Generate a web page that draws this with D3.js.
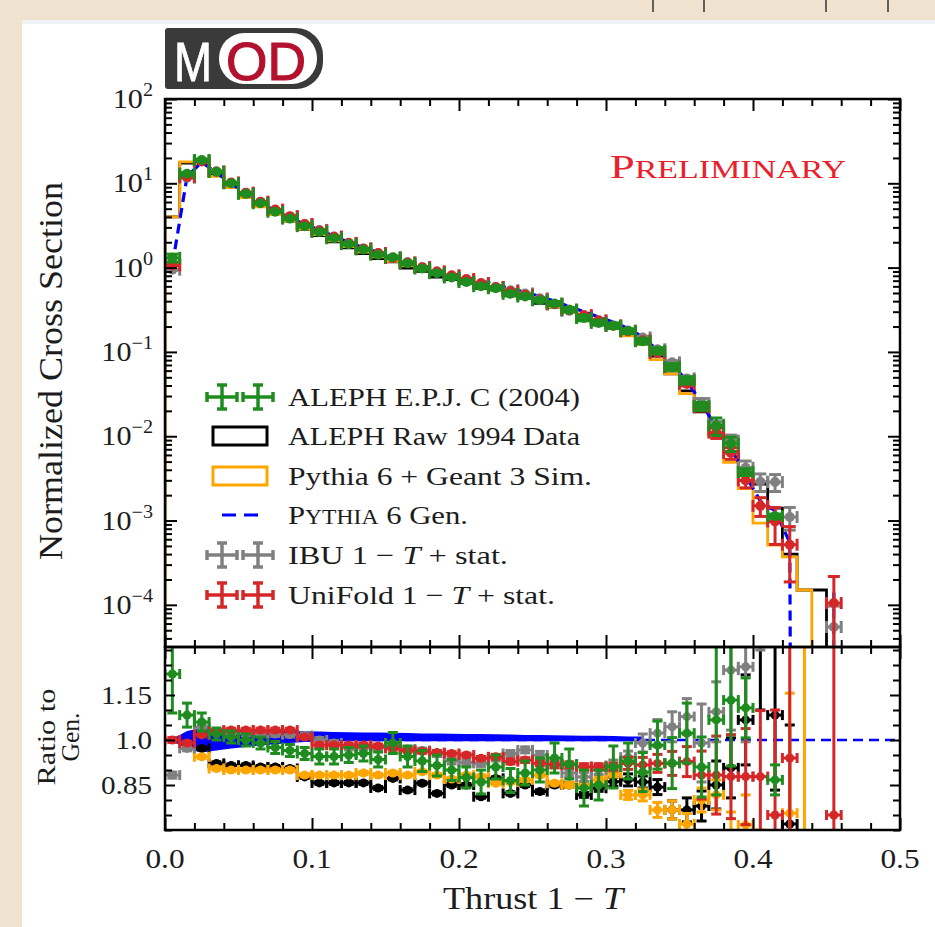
<!DOCTYPE html>
<html>
<head>
<meta charset="utf-8">
<script src="https://cdn.jsdelivr.net/npm/d3@7"></script>
<style>
body { margin: 0; background: #efe2cf; }
svg { display: block; font-family: "Liberation Serif", "DejaVu Serif", serif; }
</style>
</head>
<body>
<script>
// bin centres of the 1-T histogram (bin width 0.01)
const binCenters = [0.005, 0.015, 0.025, 0.035, 0.045, 0.055, 0.065, 0.075, 0.085, 0.095,
  0.105, 0.115, 0.125, 0.135, 0.145, 0.155, 0.165, 0.175, 0.185, 0.195,
  0.205, 0.215, 0.225, 0.235, 0.245, 0.255, 0.265, 0.275, 0.285, 0.295,
  0.305, 0.315, 0.325, 0.335, 0.345, 0.355, 0.365, 0.375, 0.385, 0.395,
  0.405, 0.415, 0.425, 0.435, 0.445, 0.455];
const binWidth = 0.01;

// Pythia 6 Gen. (upper panel, normalized cross section)
const gen = [1.07, 12.0, 17.8, 13.4, 9.9, 7.5, 5.86, 4.72, 3.95, 3.25,
  2.8, 2.36, 2.0, 1.72, 1.52, 1.34, 1.19, 1.05, 0.94, 0.85,
  0.77, 0.70, 0.625, 0.565, 0.51, 0.455, 0.40, 0.345, 0.30, 0.26,
  0.225, 0.19, 0.15, 0.105, 0.072, 0.045, 0.025, 0.0125, 0.0072, 0.0034,
  0.0017, 0.0013, 0.00055, 0, 0, 0.00014];

// ALEPH raw 1994 data and Pythia 6 + Geant 3 sim (upper panel step histograms)
const rawHist = [4.0, 17.4, 17.3, 12.4, 9.06, 6.86, 5.33, 4.30, 3.57, 2.85,
  2.40, 2.02, 1.71, 1.47, 1.28, 1.17, 0.99, 0.90, 0.77, 0.72,
  0.655, 0.568, 0.545, 0.464, 0.434, 0.377, 0.34, 0.293, 0.245, 0.218,
  0.194, 0.165, 0.129, 0.089, 0.055, 0.0345, 0.0195, 0.0106, 0.0065, 0.0036,
  0.0027, 0.0014, 0.0004, 0.00015, 0.00015, 0];
const simHist = [4.0, 18.0, 16.8, 12.1, 8.9, 6.75, 5.27, 4.25, 3.56, 2.87,
  2.47, 2.08, 1.77, 1.53, 1.34, 1.19, 1.05, 0.94, 0.83, 0.74,
  0.68, 0.615, 0.535, 0.486, 0.442, 0.402, 0.342, 0.293, 0.255, 0.225,
  0.2, 0.155, 0.123, 0.081, 0.055, 0.032, 0.02, 0.0102, 0.0049, 0.0024,
  0.00093, 0.00051, 0.00037, 0.00015, 0, 0];

// ratios to Gen. (lower panel) and their errors
const rAleph = [1.22, 1.083, 1.06, 1.02, 1.01, 1.0, 0.99, 0.975, 0.965, 0.955,
  0.945, 0.945, 0.95, 0.955, 0.935, 0.99, 0.945, 0.93, 0.915, 0.9,
  0.875, 0.86, 0.91, 0.865, 0.89, 0.9, 0.94, 0.92, 0.84, 0.85,
  0.91, 0.93, 0.893, 0.983, 0.923, 1.023, 0.91, 1.067, 1.133, 1.107,
  null, 0.867, null, null, null, null];
const eAleph = [0.13, 0.04, 0.03, 0.02, 0.02, 0.02, 0.02, 0.02, 0.02, 0.02,
  0.025, 0.025, 0.025, 0.025, 0.025, 0.035, 0.035, 0.035, 0.035, 0.035,
  0.035, 0.04, 0.04, 0.04, 0.04, 0.04, 0.05, 0.05, 0.06, 0.05,
  0.07, 0.06, 0.065, 0.08, 0.085, 0.1, 0.1, 0.25, 0.22, 0.1,
  null, 0.05, null, null, null, null];

const rIbu = [0.883, 0.972, 1.043, 1.028, 1.022, 1.022, 1.02, 1.02, 1.018, 1.015,
  1.0, 0.99, 0.975, 0.975, 0.975, 0.98, 0.97, 0.965, 0.955, 0.93,
  0.925, 0.922, 0.94, 0.955, 0.967, 0.95, 0.92, 0.89, 0.877, 0.9,
  0.915, 0.943, 0.99, 1.023, 1.044, 1.078, 0.99, 1.094, 1.233, 1.244,
  1.7, 2.2, 2.0, null, null, 0.39];
const eIbu = [0.01, 0.008, 0.008, 0.008, 0.008, 0.008, 0.008, 0.008, 0.008, 0.008,
  0.008, 0.008, 0.008, 0.008, 0.008, 0.008, 0.008, 0.008, 0.01, 0.01,
  0.01, 0.01, 0.01, 0.01, 0.01, 0.012, 0.012, 0.012, 0.015, 0.015,
  0.018, 0.02, 0.03, 0.045, 0.05, 0.06, 0.13, 0.1, 0.2, 0.25,
  0.4, 0.5, 0.6, null, null, 0.3];

const rUni = [1.0, 0.99, 1.017, 1.028, 1.033, 1.033, 1.033, 1.033, 1.033, 1.01,
  0.983, 0.983, 0.983, 0.983, 0.98, 0.972, 0.965, 0.962, 0.958, 0.955,
  0.95, 0.939, 0.944, 0.928, 0.933, 0.922, 0.917, 0.917, 0.911, 0.911,
  0.911, 0.922, 0.917, 0.922, 0.922, 0.928, 0.883, 0.883, 0.878, 0.878,
  0.878, 0.75, 0.94, null, null, 0.75];
const eUni = [0.008, 0.006, 0.006, 0.006, 0.006, 0.006, 0.006, 0.006, 0.006, 0.006,
  0.006, 0.006, 0.006, 0.006, 0.006, 0.006, 0.006, 0.006, 0.006, 0.006,
  0.006, 0.006, 0.008, 0.008, 0.008, 0.008, 0.01, 0.01, 0.01, 0.01,
  0.012, 0.02, 0.025, 0.03, 0.04, 0.05, 0.08, 0.13, 0.14, 0.16,
  0.22, 0.35, 0.6, null, null, 0.8];

const rRaw = [3.7, 1.45, 0.972, 0.922, 0.915, 0.915, 0.91, 0.91, 0.905, 0.877,
  0.857, 0.857, 0.857, 0.857, 0.84, 0.872, 0.833, 0.856, 0.822, 0.85,
  0.85, 0.811, 0.872, 0.822, 0.85, 0.828, 0.85, 0.85, 0.817, 0.839,
  0.861, 0.867, 0.86, 0.843, 0.767, 0.767, 0.78, 0.85, 0.907, 1.067,
  1.6, 1.083, 0.72, null, null, null];
const eRaw = [0.02, 0.006, 0.005, 0.005, 0.005, 0.005, 0.005, 0.005, 0.005, 0.005,
  0.005, 0.005, 0.005, 0.005, 0.005, 0.005, 0.005, 0.005, 0.005, 0.005,
  0.005, 0.005, 0.005, 0.005, 0.005, 0.006, 0.006, 0.008, 0.008, 0.01,
  0.015, 0.02, 0.02, 0.025, 0.03, 0.04, 0.05, 0.08, 0.1, 0.15,
  0.5, 0.25, 0.33, null, null, null];

const rSim = [3.7, 1.5, 0.944, 0.905, 0.9, 0.9, 0.9, 0.9, 0.9, 0.883,
  0.883, 0.883, 0.883, 0.89, 0.883, 0.89, 0.883, 0.894, 0.883, 0.87,
  0.883, 0.878, 0.856, 0.86, 0.867, 0.883, 0.856, 0.85, 0.85, 0.867,
  0.889, 0.817, 0.817, 0.767, 0.767, 0.72, 0.8, 0.817, 0.68, 0.717,
  0.55, 0.39, 0.756, 3.0, null, null];
const eSim = [0.02, 0.006, 0.005, 0.005, 0.005, 0.005, 0.005, 0.005, 0.005, 0.005,
  0.005, 0.005, 0.005, 0.005, 0.005, 0.005, 0.005, 0.005, 0.005, 0.005,
  0.005, 0.005, 0.005, 0.005, 0.005, 0.006, 0.006, 0.008, 0.008, 0.01,
  0.012, 0.015, 0.02, 0.025, 0.03, 0.035, 0.04, 0.05, 0.08, 0.1,
  0.15, 0.25, 0.4, 3.0, null, null];

// stat. band of the generator ratio (lower panel), bins 0..32
const bandHi = [1.003, 1.03, 1.04, 1.038, 1.036, 1.034, 1.032, 1.031, 1.03, 1.029,
  1.028, 1.027, 1.026, 1.025, 1.025, 1.024, 1.023, 1.022, 1.022, 1.021,
  1.02, 1.02, 1.019, 1.018, 1.017, 1.017, 1.016, 1.015, 1.014, 1.014,
  1.013, 1.012, 1.012];
const bandLo = [0.997, 0.97, 0.958, 0.965, 0.972, 0.977, 0.982, 0.986, 0.99, 0.993,
  0.995, 0.996, 0.996, 0.996, 0.996, 0.996, 0.996, 0.996, 0.996, 0.996,
  0.996, 0.996, 0.996, 0.996, 0.996, 0.996, 0.996, 0.996, 0.996, 0.996,
  0.996, 0.996, 0.996];

const xTicks = [0, 0.1, 0.2, 0.3, 0.4, 0.5];
const xTickLabels = ['0.0', '0.1', '0.2', '0.3', '0.4', '0.5'];
const yExponents = [-4, -3, -2, -1, 0, 1, 2];
const ratioTicks = [0.85, 1.0, 1.15];
const ratioTickLabels = ['0.85', '1.0', '1.15'];

const colors = {aleph: '#1e8c1e', raw: '#000', sim: '#ffa500', gen: '#0000ff', ibu: '#808080', uni: '#d62728'};

const width = 935, height = 927;
const X0 = 165, X1 = 900, YT = 99, YM = 647, YB = 830;
const SX = 1.12; // text in the picture is a bit wide

const svg = d3.select('body').append('svg').attr('width', width).attr('height', height);

// page background + white slide
svg.append('rect').attr('width', width).attr('height', height).attr('fill', '#efe2cf');
svg.append('rect').attr('x', 22).attr('y', 20).attr('width', width - 22).attr('height', height - 20).attr('fill', '#fff');
svg.append('rect').attr('x', 22).attr('y', 20).attr('width', width - 22).attr('height', 4).attr('fill', '#eef3f5');
[653, 704, 826, 888].forEach(px => {
  svg.append('line').attr('x1', px).attr('x2', px).attr('y1', 0).attr('y2', 12).attr('stroke', '#333').attr('stroke-width', 1.5);
});

const x = d3.scaleLinear().domain([0, 0.5]).range([X0, X1]);
const yU = d3.scaleLog().domain([Math.pow(10, -4.5), 100]).range([YM, YT]);
const yL = d3.scaleLinear().domain([0.7, 1.31]).range([YB, YM]);

const defs = svg.append('defs');
defs.append('clipPath').attr('id', 'clipU').append('rect').attr('x', X0).attr('y', YT).attr('width', X1 - X0).attr('height', YM - YT);
defs.append('clipPath').attr('id', 'clipL').append('rect').attr('x', X0).attr('y', YM).attr('width', X1 - X0).attr('height', YB - YM);

const gU = svg.append('g').attr('clip-path', 'url(#clipU)');
const gL = svg.append('g').attr('clip-path', 'url(#clipL)');

function yUv(v) { return v > 0 ? yU(v) : YM + 3000; }

function stepPath(vals) {
  let p = 'M' + x(0) + ',' + (YM + 5);
  vals.forEach((v, i) => {
    const lo = binCenters[i] - binWidth / 2, hi = binCenters[i] + binWidth / 2;
    const yy = v > 0 ? yU(v) : YM + 5;
    p += 'L' + x(lo) + ',' + yy + 'L' + x(hi) + ',' + yy;
  });
  p += 'L' + x(binCenters[vals.length - 1] + binWidth / 2) + ',' + (YM + 5);
  return p;
}

function cross(g, cx, cy, xa, xb, yTop, yBot, col, cap, lw, r) {
  const s = g.append('g').attr('stroke', col).attr('stroke-width', lw).attr('fill', col);
  s.append('line').attr('x1', xa).attr('x2', xb).attr('y1', cy).attr('y2', cy);
  s.append('line').attr('x1', xa).attr('x2', xa).attr('y1', cy - cap).attr('y2', cy + cap);
  s.append('line').attr('x1', xb).attr('x2', xb).attr('y1', cy - cap).attr('y2', cy + cap);
  s.append('line').attr('x1', cx).attr('x2', cx).attr('y1', yTop).attr('y2', yBot);
  s.append('line').attr('x1', cx - cap).attr('x2', cx + cap).attr('y1', yTop).attr('y2', yTop);
  s.append('line').attr('x1', cx - cap).attr('x2', cx + cap).attr('y1', yBot).attr('y2', yBot);
  if (r > 0) s.append('circle').attr('cx', cx).attr('cy', cy).attr('r', r).attr('stroke', 'none');
}

// ---------- upper panel ----------
gU.append('path').attr('d', stepPath(rawHist)).attr('fill', 'none').attr('stroke', colors.raw).attr('stroke-width', 2.8);
gU.append('path').attr('d', stepPath(simHist)).attr('fill', 'none').attr('stroke', colors.sim).attr('stroke-width', 2.8);

const genLine = d3.line().x((d, i) => x(binCenters[i])).y(d => yUv(d));
gU.append('path').attr('d', genLine(gen)).attr('fill', 'none').attr('stroke', colors.gen)
  .attr('stroke-width', 3.2).attr('stroke-dasharray', '10,6');

function upperMarkers(r, e, col) {
  r.forEach((rv, i) => {
    if (rv === null || !(gen[i] > 0)) return;
    const v = gen[i] * rv, err = gen[i] * e[i];
    const cx = x(binCenters[i]);
    cross(gU, cx, yU(v), x(binCenters[i] - binWidth / 2), x(binCenters[i] + binWidth / 2),
      yU(v + err), v - err > 0 ? yU(v - err) : YM + 5, col, 6, 3, 5);
  });
}
upperMarkers(rIbu, eIbu, colors.ibu);
upperMarkers(rUni, eUni, colors.uni);
upperMarkers(rAleph, eAleph, colors.aleph);

// ---------- lower panel ----------
const band = d3.area().x((d, i) => x(binCenters[i])).y0((d, i) => yL(bandLo[i])).y1(d => yL(d));
gL.append('path').attr('d', band(bandHi)).attr('fill', colors.gen);
gL.append('line').attr('x1', x(0)).attr('x2', x(0.5)).attr('y1', yL(1)).attr('y2', yL(1))
  .attr('stroke', colors.gen).attr('stroke-width', 2.5).attr('stroke-dasharray', '10,6');

function lowerMarkers(r, e, col) {
  r.forEach((rv, i) => {
    if (rv === null) return;
    const cx = x(binCenters[i]);
    cross(gL, cx, yL(rv), x(binCenters[i] - binWidth / 2), x(binCenters[i] + binWidth / 2),
      yL(rv + e[i]), yL(rv - e[i]), col, 5, 3, 4.5);
  });
}
lowerMarkers(rRaw, eRaw, colors.raw);
lowerMarkers(rSim, eSim, colors.sim);
lowerMarkers(rIbu, eIbu, colors.ibu);
lowerMarkers(rUni, eUni, colors.uni);
lowerMarkers(rAleph, eAleph, colors.aleph);

// ---------- ticks ----------
function tickAxis(axisFn, scale, vals, len, tx, ty) {
  const a = axisFn(scale).tickValues(vals).tickSize(-len).tickFormat('');
  const gg = svg.append('g').attr('transform', 'translate(' + tx + ',' + ty + ')').call(a);
  gg.select('.domain').remove();
  gg.selectAll('line').attr('stroke', '#000').attr('stroke-width', 2);
}
const xMinor = [];
for (let k = 1; k < 25; k++) { if (k % 5 !== 0) xMinor.push(k * 0.02); }
const yMinor = [];
for (let ex = -5; ex <= 1; ex++) for (let m = 2; m <= 9; m++) {
  const v = m * Math.pow(10, ex);
  if (v > yU.domain()[0] && v < 100) yMinor.push(v);
}
const yMajor = yExponents.map(ex => Math.pow(10, ex));
const rMinor = [0.7, 0.75, 0.8, 0.9, 0.95, 1.05, 1.1, 1.2, 1.25, 1.3];

[[YT, d3.axisTop], [YM, d3.axisBottom], [YM, d3.axisTop], [YB, d3.axisBottom]].forEach(([ty, fn]) => {
  tickAxis(fn, x, xTicks, 12, 0, ty);
  tickAxis(fn, x, xMinor, 7, 0, ty);
});
tickAxis(d3.axisLeft, yU, yMajor, 12, X0, 0);
tickAxis(d3.axisLeft, yU, yMinor, 7, X0, 0);
tickAxis(d3.axisRight, yU, yMajor, 12, X1, 0);
tickAxis(d3.axisRight, yU, yMinor, 7, X1, 0);
tickAxis(d3.axisLeft, yL, ratioTicks, 10, X0, 0);
tickAxis(d3.axisLeft, yL, rMinor, 7, X0, 0);
tickAxis(d3.axisRight, yL, ratioTicks, 10, X1, 0);
tickAxis(d3.axisRight, yL, rMinor, 7, X1, 0);

// frames
svg.append('rect').attr('x', X0).attr('y', YT).attr('width', X1 - X0).attr('height', YM - YT)
  .attr('fill', 'none').attr('stroke', '#000').attr('stroke-width', 2.5);
svg.append('rect').attr('x', X0).attr('y', YM).attr('width', X1 - X0).attr('height', YB - YM)
  .attr('fill', 'none').attr('stroke', '#000').attr('stroke-width', 2.5);

// ---------- text ----------
const ink = '#1c1c1c';
function txt(px, py, anchor, size, rot) {
  return svg.append('text')
    .attr('transform', 'translate(' + px + ',' + py + ') scale(' + SX + ',1)' + (rot ? ' rotate(' + rot + ')' : ''))
    .attr('text-anchor', anchor).attr('font-size', size).attr('fill', ink);
}

yExponents.forEach(ex => {
  const t = txt(153, yU(Math.pow(10, ex)) + 9, 'end', 27);
  t.append('tspan').text('10');
  t.append('tspan').attr('font-size', 18).attr('dy', -12).text(ex < 0 ? '\u2212' + (-ex) : String(ex));
});
ratioTicks.forEach((v, i) => {
  txt(152, yL(v) + 9, 'end', 26).text(ratioTickLabels[i]);
});
xTicks.forEach((v, i) => {
  txt(x(v), 868, 'middle', 28).text(xTickLabels[i]);
});

// axis titles
const xt = txt(533, 909, 'middle', 31).attr('textLength', 180 / SX).attr('lengthAdjust', 'spacingAndGlyphs');
xt.append('tspan').text('Thrust 1 \u2212 ');
xt.append('tspan').attr('font-style', 'italic').text('T');

txt(62, 371, 'middle', 31, -90).attr('textLength', 378).attr('lengthAdjust', 'spacingAndGlyphs')
  .text('Normalized Cross Section');
txt(55, 737, 'middle', 23, -90).attr('textLength', 97).attr('lengthAdjust', 'spacingAndGlyphs').text('Ratio to');
txt(79, 737, 'middle', 23, -90).attr('textLength', 49).attr('lengthAdjust', 'spacingAndGlyphs').text('Gen.');

// Preliminary
const pre = svg.append('text').attr('x', 610).attr('y', 178).attr('fill', '#e8212b')
  .attr('textLength', 236).attr('lengthAdjust', 'spacingAndGlyphs');
pre.append('tspan').attr('font-size', 34).text('P');
pre.append('tspan').attr('font-size', 26).text('RELIMINARY');

// ---------- legend ----------
const legRows = [397, 436, 476, 515, 555, 595];
const legText = 288;
const legWidths = [292, 292, 304, 180, 220, 267];
function legLabel(i) {
  return svg.append('text').attr('x', legText).attr('y', legRows[i] + 9).attr('font-size', 26).attr('fill', ink)
    .attr('textLength', legWidths[i]).attr('lengthAdjust', 'spacingAndGlyphs');
}
function legCross(i, col) {
  [222, 258].forEach(cx => cross(svg, cx, legRows[i], cx - 15, cx + 15, legRows[i] - 12, legRows[i] + 12, col, 5, 3.5, 0));
}
legCross(0, colors.aleph);
legLabel(0).text('ALEPH E.P.J. C (2004)');
svg.append('rect').attr('x', 213).attr('y', legRows[1] - 9).attr('width', 54).attr('height', 18)
  .attr('fill', 'none').attr('stroke', colors.raw).attr('stroke-width', 3);
legLabel(1).text('ALEPH Raw 1994 Data');
svg.append('rect').attr('x', 213).attr('y', legRows[2] - 9).attr('width', 54).attr('height', 18)
  .attr('fill', 'none').attr('stroke', colors.sim).attr('stroke-width', 3);
legLabel(2).text('Pythia 6 + Geant 3 Sim.');
svg.append('line').attr('x1', 222).attr('x2', 258).attr('y1', legRows[3]).attr('y2', legRows[3])
  .attr('stroke', colors.gen).attr('stroke-width', 3.2).attr('stroke-dasharray', '14,8');
const l3 = legLabel(3);
l3.append('tspan').text('P');
l3.append('tspan').attr('font-size', 20).text('YTHIA');
l3.append('tspan').text(' 6 Gen.');
legCross(4, colors.ibu);
const l4 = legLabel(4);
l4.append('tspan').text('IBU 1 \u2212 ');
l4.append('tspan').attr('font-style', 'italic').text('T');
l4.append('tspan').text(' + stat.');
legCross(5, colors.uni);
const l5 = legLabel(5);
l5.append('tspan').text('UniFold 1 \u2212 ');
l5.append('tspan').attr('font-style', 'italic').text('T');
l5.append('tspan').text(' + stat.');

// ---------- MOD logo ----------
const logo = svg.append('g');
logo.append('path').attr('d', 'M168,28 H296 A27,27 0 0 1 323,55 V62 A27,27 0 0 1 296,89 H168 A3,3 0 0 1 165,86 V31 A3,3 0 0 1 168,28 Z')
  .attr('fill', '#3a3a3a');
logo.append('text').attr('x', 193).attr('y', 81).attr('text-anchor', 'middle')
  .attr('font-family', 'Liberation Sans, Arial, sans-serif').attr('font-size', 56).attr('fill', '#fff')
  .attr('stroke', '#fff').attr('stroke-width', 0.8)
  .attr('textLength', 38).attr('lengthAdjust', 'spacingAndGlyphs').text('M');
logo.append('rect').attr('x', 219).attr('y', 33).attr('width', 98).attr('height', 51).attr('rx', 25).attr('fill', '#fff');
logo.append('text').attr('x', 266).attr('y', 80).attr('text-anchor', 'middle')
  .attr('font-family', 'Liberation Sans, Arial, sans-serif').attr('font-size', 54).attr('fill', '#b3122f')
  .attr('stroke', '#b3122f').attr('stroke-width', 1.2)
  .attr('textLength', 80).attr('lengthAdjust', 'spacingAndGlyphs').text('OD');
</script>
</body>
</html>
